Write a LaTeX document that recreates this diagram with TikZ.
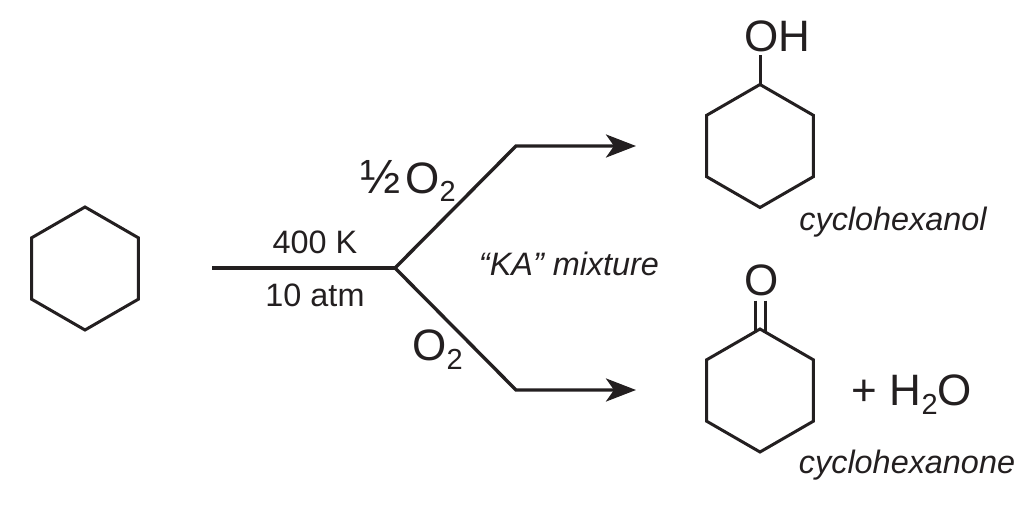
\documentclass[tikz,border=0pt]{standalone}
\usepackage{fontspec}
\setmainfont{Liberation Sans}
\usetikzlibrary{arrows.meta,positioning,shapes.geometric}
\definecolor{ink}{HTML}{231F20}
\newcommand{\subtwo}{\raisebox{-9pt}{\fontsize{29}{29}\selectfont 2}}
\tikzstyle{ring}=[regular polygon,regular polygon sides=6,shape border rotate=30,draw=ink,line width=3pt,minimum size=123pt,inner sep=0pt,outer sep=0pt]
\tikzstyle{stem}=[draw=ink,line width=3.4pt,line join=miter]
\tikzstyle{edge}=[stem,-{Stealth[length=30pt,width=23pt,inset=8pt]}]
\tikzstyle{bond}=[draw=ink,line width=3pt]
\tikzstyle{bigtext}=[text=ink,inner sep=0pt,anchor=base,font=\fontsize{44}{48}\selectfont]
\tikzstyle{smalltext}=[text=ink,inner sep=0pt,anchor=base,font=\fontsize{32.4}{36}\selectfont]
\tikzstyle{compound}=[smalltext,font=\fontsize{32.4}{36}\selectfont\itshape]

\begin{document}
\begin{tikzpicture}[x=1pt,y=-1pt]
        \useasboundingbox (0,0) rectangle (1029,519);

        \node [ring] (r1) at (85,268.5) {};
        \node [ring] (r2) at (760,146) {};
        \node [ring] (r3) at (760,390.5) {};

        \node [bigtext] (oh) at (777,52) {OH};
        \node [bigtext] (ko) at (762,295) {O};
        \node [bigtext] (water) at (912,405) {+ H\subtwo O};
        \node [bigtext] (half) at (408,193) {{\fontsize{48}{48}\selectfont ½}\hspace{5pt}O\subtwo};
        \node [bigtext] (oxy) at (437.5,360) {O\subtwo};

        \node [smalltext] (temp) at (315,253) {400 K};
        \node [smalltext] (press) at (315,306) {10 atm};
        \node [compound] (mix) at (569,275) {“KA” mixture};
        \node [compound] (anol) at (893,230) {cyclohexanol};
        \node [compound] (anone) at (907,473) {cyclohexanone};

        \coordinate (start) at (212,268);
        \coordinate (fork) at (395,268);
        \coordinate (up) at (516,146);
        \coordinate (upend) at (636,146);
        \coordinate (down) at (516,390);
        \coordinate (downend) at (636,390);
        \coordinate (ohbond) at (760,55);

        \path [stem] (start) -- (fork);
        \path [edge] (fork) -- (up) -- (upend);
        \path [edge] (fork) -- (down) -- (downend);
        \path [bond] (r2.corner 1) -- (ohbond);
        \path [bond] ([xshift=-6.5pt,yshift=-5pt]ko.south) -- ([xshift=-4.5pt,yshift=-2pt]r3.corner 1);
        \path [bond] ([xshift=3pt,yshift=-5pt]ko.south) -- ([xshift=5pt,yshift=-3pt]r3.corner 1);
      \end{tikzpicture}
\end{document}
